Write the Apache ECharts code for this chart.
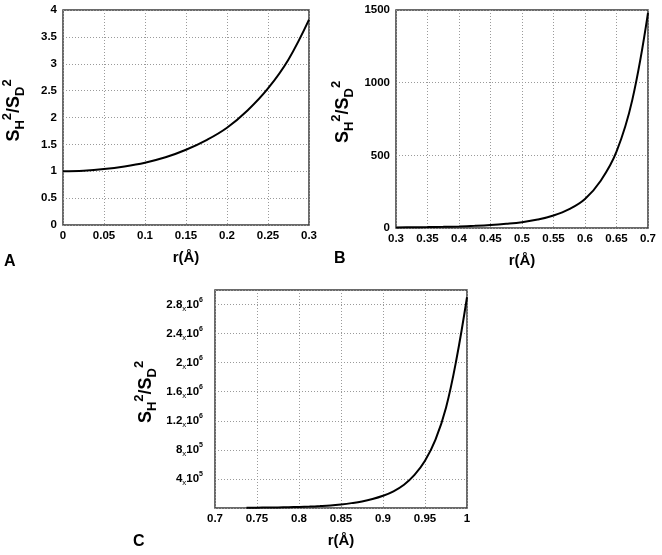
<!DOCTYPE html>
<html>
<head>
<meta charset="utf-8">
<style>
  html, body { margin: 0; padding: 0; background: #fff; }
  #chart { width: 662px; height: 555px; }
</style>
<script src="https://cdn.jsdelivr.net/npm/echarts@6/dist/echarts.min.js"></script>
</head>
<body>
<div id="chart"></div>
<script>
// panel A : r from 0 to 0.3
var rA = [0, 0.025, 0.05, 0.075, 0.1, 0.125, 0.15, 0.175, 0.2, 0.225, 0.25, 0.275, 0.3];
var vA = [1.0, 1.01, 1.04, 1.09, 1.16, 1.26, 1.40, 1.58, 1.81, 2.13, 2.54, 3.08, 3.82];
// panel B : r from 0.3 to 0.7
var rB = [0.3, 0.325, 0.35, 0.375, 0.4, 0.425, 0.45, 0.475, 0.5, 0.525, 0.55, 0.575, 0.6, 0.625, 0.65, 0.675, 0.7];
var vB = [3.8, 4.8, 6.2, 8.1, 10.8, 14.8, 20.4, 28.8, 40, 58, 86, 130, 200, 325, 525, 880, 1480];
// panel C : r from 0.7375 to 1
var rC = [0.7375, 0.75, 0.7625, 0.775, 0.7875, 0.8, 0.8125, 0.825, 0.8375, 0.85, 0.8625, 0.875, 0.8875,
          0.9, 0.9125, 0.925, 0.9375, 0.95, 0.9625, 0.975, 0.9875, 1.0];
var vC = [3400, 4500, 6000, 8000, 10500, 14000, 19000, 26000, 35000, 49000, 67000, 90000, 123000,
          168000, 230000, 320000, 455000, 650000, 940000, 1380000, 2050000, 2900000];
// tick labels of panel C y axis (mantissa x 10^exp)
var cTicks = [[4e5, '4', '5'], [8e5, '8', '5'], [1.2e6, '1.2', '6'], [1.6e6, '1.6', '6'], [2e6, '2', '6'], [2.4e6, '2.4', '6'], [2.8e6, '2.8', '6']];
var panelLetters = ['A', 'B', 'C'];
var xName = 'r(Å)';

var FONT = '"Liberation Sans", Arial, sans-serif';

function pairs(xs, ys) {
  var out = [];
  for (var i = 0; i < xs.length; i++) out.push([xs[i], ys[i]]);
  return out;
}

// y axis title  S_H^2 / S_D^2
var yTitle = '{s|S}{sub|H}{sup|2}{s|/S}{sub|D}{sup|2}';
var yTitleStyle = {
  fontFamily: FONT,
  padding: [0, 0, 0, 14],
  rich: {
    s:   { fontFamily: FONT, fontSize: 18, fontWeight: 'bold', color: '#000', lineHeight: 26, verticalAlign: 'middle' },
    sub: { fontFamily: FONT, fontSize: 13, fontWeight: 'bold', color: '#000', lineHeight: 13, verticalAlign: 'bottom' },
    sup: { fontFamily: FONT, fontSize: 13, fontWeight: 'bold', color: '#000', lineHeight: 13, verticalAlign: 'top' }
  }
};

var gridCommon = { show: true, borderColor: '#3a3a3a', borderWidth: 1.5, backgroundColor: 'transparent' };
var splitCommon = { show: true, lineStyle: { color: '#9a9a9a', type: [1, 2], width: 1 } };
var labelCommon = { fontFamily: FONT, fontSize: 11.5, fontWeight: 'bold', color: '#000' };

function plain(v) {
  return String(+v.toFixed(4));
}

function xAxisOf(idx, min, max) {
  return {
    type: 'value', gridIndex: idx, min: min, max: max, interval: 0.05,
    axisLine: { show: false }, axisTick: { show: false },
    splitLine: splitCommon,
    axisLabel: Object.assign({ margin: 5, formatter: plain }, labelCommon),
    name: xName, nameLocation: 'middle', nameGap: 25,
    nameTextStyle: { fontFamily: FONT, fontSize: 15, fontWeight: 'bold', color: '#000' }
  };
}

function yAxisOf(idx, max, interval, gap, labelMargin) {
  return {
    type: 'value', gridIndex: idx, min: 0, max: max, interval: interval,
    axisLine: { show: false }, axisTick: { show: false },
    splitLine: splitCommon,
    axisLabel: Object.assign({ margin: labelMargin, formatter: plain }, labelCommon),
    name: yTitle, nameLocation: 'middle', nameGap: gap, nameRotate: 90,
    nameTextStyle: yTitleStyle
  };
}

var yC = yAxisOf(2, 3e6, 4e5, 56, 12);
yC.axisLabel = {
  margin: 12,
  formatter: function (v) {
    for (var i = 0; i < cTicks.length; i++) {
      if (Math.abs(cTicks[i][0] - v) < 1) return '{n|' + cTicks[i][1] + '}{x|x}{n|10}{e|' + cTicks[i][2] + '}';
    }
    return '';
  },
  rich: {
    n: { fontFamily: FONT, fontSize: 11.5, fontWeight: 'bold', color: '#000', lineHeight: 16, verticalAlign: 'middle' },
    x: { fontFamily: FONT, fontSize: 8, color: '#000', lineHeight: 13, verticalAlign: 'bottom' },
    e: { fontFamily: FONT, fontSize: 7, fontWeight: 'bold', color: '#000', lineHeight: 8, verticalAlign: 'top' }
  }
};

function lineOf(idx, data) {
  return {
    type: 'line', xAxisIndex: idx, yAxisIndex: idx, data: data,
    smooth: 0.4, showSymbol: false, silent: true,
    lineStyle: { color: '#000', width: 2 }
  };
}

var letterPos = [[4, 254], [334, 251], [133, 534]];
var graphics = [];
for (var i = 0; i < panelLetters.length; i++) {
  graphics.push({
    type: 'text', left: letterPos[i][0], top: letterPos[i][1],
    style: { text: panelLetters[i], font: 'bold 16px ' + FONT, fill: '#000' }
  });
}

var myChart = echarts.init(document.getElementById('chart'));
myChart.setOption({
  animation: false,
  grid: [
    Object.assign({ left: 60, top: 10, width: 249, height: 215 }, gridCommon),
    Object.assign({ left: 396, top: 10, width: 252, height: 218 }, gridCommon),
    Object.assign({ left: 215, top: 290, width: 252, height: 218 }, gridCommon)
  ],
  xAxis: [xAxisOf(0, 0, 0.3), xAxisOf(1, 0.3, 0.7), xAxisOf(2, 0.7, 1)],
  yAxis: [yAxisOf(0, 4, 0.5, 36, 6), yAxisOf(1, 1500, 500, 40, 6), yC],
  series: [lineOf(0, pairs(rA, vA)), lineOf(1, pairs(rB, vB)), lineOf(2, pairs(rC, vC))],
  graphic: graphics
});
</script>
</body>
</html>
